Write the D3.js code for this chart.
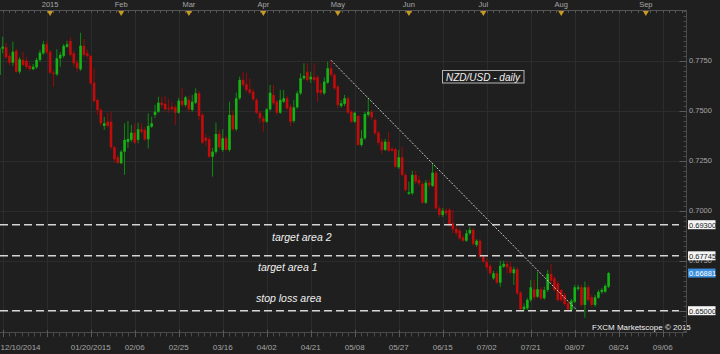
<!DOCTYPE html>
<html>
<head>
<meta charset="utf-8">
<script src="https://cdn.jsdelivr.net/npm/d3@7"></script>
<style>
  html, body { margin: 0; padding: 0; background: #1f1f1f; }
  svg { display: block; font-family: "Liberation Sans", Arial, sans-serif; }
</style>
</head>
<body>
<div id="chart"></div>
<script>
// NZD/USD daily candles, 12/10/2014 .. 08/21/2015 (weekdays, market holidays skipped)
const firstDay = '2014-12-10';
const lastDay = '2015-08-21';
const holidays = ['2014-12-25', '2015-01-01'];

const opens = [
  0.7679,0.7810,0.7817,0.7774,0.7740,0.7799,0.7695,0.7754,0.7749,0.7724,0.7707,0.7717,0.7754,0.7787,0.7832,
  0.7795,0.7690,0.7682,0.7762,0.7774,0.7820,0.7849,0.7787,0.7740,0.7707,0.7824,0.7787,0.7774,0.7640,0.7554,0.7504,0.7424,0.7445,0.7445,0.7317,0.7267,
  0.7237,0.7295,0.7344,0.7354,0.7390,0.7354,0.7407,0.7404,0.7357,0.7420,0.7479,0.7495,0.7540,0.7534,0.7512,0.7520,0.7517,0.7490,0.7550,0.7529,
  0.7554,0.7504,0.7540,0.7587,0.7479,0.7365,0.7357,0.7270,0.7294,0.7384,0.7304,0.7362,0.7304,0.7479,0.7407,0.7562,0.7654,0.7632,0.7607,0.7595,0.7554,0.7490,
  0.7462,0.7445,0.7507,0.7579,0.7545,0.7490,0.7545,0.7562,0.7520,0.7449,0.7517,0.7587,0.7662,0.7695,0.7657,0.7667,0.7667,0.7604,0.7587,0.7640,0.7712,0.7679,
  0.7620,0.7524,0.7534,0.7562,0.7495,0.7445,0.7474,0.7329,0.7362,0.7479,0.7495,0.7454,0.7390,0.7345,0.7304,0.7345,0.7309,0.7307,0.7217,0.7267,0.7179,
  0.7085,0.7087,0.7179,0.7154,0.7134,0.7040,0.7140,0.7124,0.7190,0.7012,0.6979,0.7000,0.7004,0.6937,0.6909,0.6900,0.6867,0.6850,0.6887,0.6904,0.6829,0.6850,
  0.6770,0.6744,0.6724,0.6662,0.6687,0.6640,0.6720,0.6734,0.6720,0.6687,0.6707,0.6590,0.6507,0.6512,0.6554,0.6607,0.6570,0.6607,0.6562,0.6604,0.6684,0.6662,0.6637,
  0.6604,0.6579,0.6537,0.6504,0.6545,0.6609,0.6617,0.6529,0.6617,0.6567,0.6529,0.6565,0.6594,0.6595,0.6620
];
const highs = [
  0.7864,0.7870,0.7839,0.7789,0.7845,0.7809,0.7769,0.7794,0.7769,0.7739,0.7734,0.7764,0.7804,0.7849,0.7849,
  0.7804,0.7704,0.7807,0.7792,0.7834,0.7850,0.7867,0.7799,0.7754,0.7890,0.7859,0.7804,0.7779,0.7712,0.7559,0.7514,0.7469,0.7489,0.7495,0.7324,0.7279,
  0.7304,0.7437,0.7449,0.7429,0.7437,0.7440,0.7437,0.7419,0.7487,0.7470,0.7529,0.7570,0.7570,0.7574,0.7557,0.7545,0.7529,0.7564,0.7612,0.7574,
  0.7574,0.7579,0.7612,0.7599,0.7489,0.7384,0.7370,0.7314,0.7440,0.7404,0.7407,0.7374,0.7545,0.7504,0.7590,0.7670,0.7694,0.7690,0.7662,0.7609,0.7564,0.7499,
  0.7474,0.7514,0.7629,0.7629,0.7554,0.7604,0.7604,0.7574,0.7534,0.7554,0.7599,0.7687,0.7737,0.7737,0.7695,0.7737,0.7679,0.7637,0.7667,0.7745,0.7748,0.7689,
  0.7629,0.7554,0.7579,0.7570,0.7504,0.7495,0.7479,0.7404,0.7494,0.7562,0.7504,0.7464,0.7399,0.7359,0.7359,0.7395,0.7319,0.7314,0.7304,0.7320,0.7189,
  0.7145,0.7200,0.7200,0.7174,0.7144,0.7154,0.7157,0.7234,0.7199,0.7024,0.7014,0.7014,0.7014,0.7004,0.6924,0.6914,0.6879,0.6904,0.6920,0.6914,0.6857,0.6859,
  0.6779,0.6759,0.6734,0.6699,0.6699,0.6750,0.6750,0.6750,0.6745,0.6720,0.6719,0.6599,0.6537,0.6564,0.6654,0.6654,0.6695,0.6619,0.6620,0.6704,0.6734,0.6674,0.6649,
  0.6609,0.6589,0.6549,0.6559,0.6629,0.6629,0.6629,0.6645,0.6629,0.6579,0.6579,0.6604,0.6614,0.6634,0.6694
];
const lows = [
  0.7654,0.7787,0.7759,0.7729,0.7724,0.7688,0.7683,0.7724,0.7709,0.7699,0.7704,0.7709,0.7744,0.7779,0.7784,
  0.7684,0.7620,0.7674,0.7720,0.7764,0.7814,0.7769,0.7720,0.7695,0.7699,0.7769,0.7764,0.7629,0.7538,0.7479,0.7424,0.7404,0.7414,0.7309,0.7239,0.7234,
  0.7234,0.7179,0.7314,0.7344,0.7334,0.7337,0.7384,0.7349,0.7312,0.7414,0.7464,0.7489,0.7514,0.7499,0.7490,0.7499,0.7429,0.7484,0.7519,0.7519,
  0.7494,0.7494,0.7534,0.7454,0.7334,0.7324,0.7264,0.7170,0.7284,0.7309,0.7294,0.7299,0.7295,0.7399,0.7399,0.7554,0.7619,0.7594,0.7579,0.7549,0.7484,0.7437,
  0.7395,0.7439,0.7499,0.7529,0.7479,0.7484,0.7539,0.7504,0.7424,0.7439,0.7509,0.7579,0.7654,0.7644,0.7639,0.7644,0.7545,0.7579,0.7579,0.7634,0.7669,0.7604,
  0.7512,0.7514,0.7524,0.7484,0.7439,0.7439,0.7324,0.7320,0.7354,0.7470,0.7454,0.7379,0.7329,0.7284,0.7299,0.7294,0.7294,0.7214,0.7209,0.7174,0.7095,
  0.7079,0.7079,0.7134,0.7124,0.7034,0.7034,0.7114,0.7119,0.7004,0.6969,0.6969,0.6974,0.6919,0.6887,0.6874,0.6854,0.6844,0.6844,0.6879,0.6824,0.6819,0.6764,
  0.6739,0.6704,0.6679,0.6654,0.6634,0.6620,0.6714,0.6687,0.6684,0.6629,0.6579,0.6499,0.6500,0.6504,0.6544,0.6554,0.6564,0.6554,0.6554,0.6594,0.6639,0.6594,0.6544,
  0.6544,0.6524,0.6495,0.6499,0.6539,0.6599,0.6519,0.6465,0.6544,0.6519,0.6519,0.6559,0.6584,0.6589,0.6613
];
const closes = [
  0.7812,0.7820,0.7767,0.7740,0.7795,0.7695,0.7757,0.7729,0.7719,0.7709,0.7720,0.7754,0.7790,0.7832,0.7792,
  0.7690,0.7684,0.7762,0.7779,0.7824,0.7832,0.7779,0.7737,0.7712,0.7825,0.7779,0.7774,0.7637,0.7549,0.7504,0.7437,0.7437,0.7424,0.7317,0.7257,0.7239,
  0.7295,0.7354,0.7359,0.7390,0.7340,0.7407,0.7395,0.7357,0.7424,0.7437,0.7495,0.7540,0.7529,0.7507,0.7507,0.7507,0.7490,0.7550,0.7529,0.7567,
  0.7507,0.7545,0.7587,0.7474,0.7340,0.7349,0.7270,0.7295,0.7384,0.7317,0.7362,0.7304,0.7479,0.7407,0.7562,0.7654,0.7629,0.7604,0.7590,0.7557,0.7490,0.7462,
  0.7445,0.7507,0.7590,0.7537,0.7490,0.7554,0.7562,0.7512,0.7445,0.7517,0.7587,0.7662,0.7674,0.7654,0.7670,0.7654,0.7590,0.7590,0.7645,0.7712,0.7679,0.7612,
  0.7529,0.7537,0.7562,0.7490,0.7445,0.7490,0.7329,0.7362,0.7484,0.7495,0.7467,0.7387,0.7340,0.7304,0.7345,0.7300,0.7300,0.7220,0.7267,0.7179,0.7104,
  0.7092,0.7179,0.7145,0.7137,0.7040,0.7140,0.7127,0.7190,0.7012,0.6979,0.7000,0.6987,0.6929,0.6907,0.6889,0.6862,0.6850,0.6887,0.6904,0.6834,0.6850,0.6770,
  0.6745,0.6717,0.6687,0.6687,0.6640,0.6724,0.6734,0.6717,0.6690,0.6707,0.6587,0.6507,0.6520,0.6554,0.6617,0.6567,0.6607,0.6562,0.6604,0.6684,0.6650,0.6604,0.6554,
  0.6554,0.6534,0.6507,0.6550,0.6617,0.6617,0.6529,0.6617,0.6554,0.6529,0.6567,0.6594,0.6604,0.6624,0.6688
];

// bottom axis
const tickDates = ['2014-12-11','2014-12-31','2015-01-20','2015-02-06','2015-02-25','2015-03-16','2015-04-02',
  '2015-04-21','2015-05-08','2015-05-27','2015-06-15','2015-07-02','2015-07-21','2015-08-07','2015-08-24','2015-09-06'];
const tickLabels = ['12/10/2014','','01/20/2015','02/06','02/25','03/16','04/02',
  '04/21','05/08','05/27','06/15','07/02','07/21','08/07','08/24','09/06'];
// top axis
const monthDates = ['2015-01-01','2015-02-01','2015-03-01','2015-04-01','2015-05-01','2015-06-01','2015-07-01','2015-08-01','2015-09-01'];
const monthLabels = ['2015','Feb','Mar','Apr','May','Jun','Jul','Aug','Sep'];
// right axis (0.6500 label sits under the stop-loss box, so it is not printed)
const priceTicks = [0.65, 0.675, 0.70, 0.725, 0.75, 0.775];
const priceLabels = [0.675, 0.70, 0.725, 0.75, 0.775];

// horizontal levels and annotations
const levels = [0.6930, 0.67745, 0.6500];
const levelNames = ['target area 2', 'target area 1', 'stop loss area'];
const lastPrice = 0.66881;
const trendDates = ['2015-04-29', '2015-08-10'];
const trendPrices = [0.7752, 0.6496];
const title = 'NZD/USD - daily';
const credit = 'FXCM Marketscope \u00a9 2015';

const W = 720, H = 354;
const plotR = 679, plotT = 10, plotB = 333, axisX = 686.5;
const bg = '#1f1f1f', grid = '#2c2c2c', axisCol = '#4a4a4a', txt = '#a6a6a6';
const upCol = '#14b414', downCol = '#c20c0c';

const parse = d3.utcParse('%Y-%m-%d');
const fmt = d3.utcFormat('%Y-%m-%d');
const days = d3.utcDays(parse(firstDay), d3.utcDay.offset(parse(lastDay), 1))
  .filter(d => d.getUTCDay() % 6 !== 0 && !holidays.includes(fmt(d)));

// trading-day index; past the last bar the chart runs on calendar days
function dayIndex(s) {
  const d = parse(s);
  const i = days.findIndex(t => t >= d);
  if (i >= 0) return i;
  return days.length - 1 + d3.utcDay.count(days[days.length - 1], d);
}

const x = d3.scaleLinear().domain([0.2, 200.8]).range([0, plotR]);
const y = d3.scaleLinear().domain([0.6394, 0.8004]).range([331.9, 9.9]);

const svg = d3.select('#chart').append('svg')
  .attr('width', W).attr('height', H);

svg.append('rect').attr('width', W).attr('height', H).attr('fill', bg);

svg.append('clipPath').attr('id', 'clip')
  .append('rect').attr('x', 0).attr('y', plotT).attr('width', plotR).attr('height', plotB - plotT);

// grid
const majorIdx = tickDates.map(dayIndex);
svg.append('g').selectAll('line').data(majorIdx).join('line')
  .attr('x1', d => Math.round(x(d)) + 0.5).attr('x2', d => Math.round(x(d)) + 0.5)
  .attr('y1', plotT).attr('y2', plotB)
  .attr('stroke', grid);
svg.append('g').selectAll('line').data(priceTicks).join('line')
  .attr('x1', 0).attr('x2', axisX)
  .attr('y1', d => Math.round(y(d)) + 0.5).attr('y2', d => Math.round(y(d)) + 0.5)
  .attr('stroke', grid);

// candles
const candles = days.map((d, i) => ({ i, o: opens[i], h: highs[i], l: lows[i], c: closes[i] }));
const cg = svg.append('g').attr('clip-path', 'url(#clip)');
cg.selectAll('line').data(candles).join('line')
  .attr('x1', d => x(d.i)).attr('x2', d => x(d.i))
  .attr('y1', d => y(d.h)).attr('y2', d => y(d.l))
  .attr('stroke', d => d.c >= d.o ? '#0e8c0e' : '#960a0a')
  .attr('stroke-width', 1);
cg.selectAll('rect').data(candles).join('rect')
  .attr('x', d => x(d.i) - 1.3)
  .attr('width', 2.6)
  .attr('y', d => y(Math.max(d.o, d.c)))
  .attr('height', d => Math.max(1, Math.abs(y(d.o) - y(d.c))))
  .attr('fill', d => d.c >= d.o ? upCol : downCol);

// dashed levels
svg.append('g').selectAll('line').data(levels).join('line')
  .attr('x1', 0).attr('x2', plotR)
  .attr('y1', d => y(d)).attr('y2', d => y(d))
  .attr('stroke', '#d4d4d4').attr('stroke-width', 1.5)
  .attr('stroke-dasharray', '8,4');

// trend line
svg.append('line')
  .attr('x1', x(dayIndex(trendDates[0]))).attr('y1', y(trendPrices[0]))
  .attr('x2', x(dayIndex(trendDates[1]))).attr('y2', y(trendPrices[1]))
  .attr('stroke', '#c4ccc4').attr('stroke-width', 1)
  .attr('stroke-dasharray', '2,1.5');

// annotations: two targets hang under their line, stop loss sits above it
const noteX = [272, 258, 256];
const noteDy = [16, 15, -9];
svg.append('g').selectAll('text').data(levels).join('text')
  .attr('x', (d, i) => noteX[i])
  .attr('y', (d, i) => y(d) + noteDy[i])
  .attr('fill', '#f0f0f0')
  .attr('font-size', 10.5)
  .attr('font-style', 'italic')
  .text((d, i) => levelNames[i]);

// title box
const tg = svg.append('g').attr('transform', 'translate(442.5,70.5)');
tg.append('rect').attr('width', 81.5).attr('height', 12.5)
  .attr('fill', bg).attr('stroke', '#b4b4b4');
tg.append('text').attr('x', 3.5).attr('y', 10)
  .attr('fill', '#f2f2f2').attr('font-size', 10).attr('font-style', 'italic')
  .text(title);

svg.append('text').attr('x', 592).attr('y', 330)
  .attr('fill', '#f0f0f0').attr('font-size', 8)
  .text(credit);

// right axis
const ra = svg.append('g').attr('transform', `translate(${axisX},0)`);
ra.append('line').attr('x1', 0).attr('x2', 0).attr('y1', plotT).attr('y2', plotB).attr('stroke', axisCol);
ra.selectAll('line.minor').data(d3.range(0.6400, 0.8001, 0.0025)).join('line')
  .attr('class', 'minor')
  .attr('x1', -3).attr('x2', 0)
  .attr('y1', d => Math.round(y(d)) + 0.5).attr('y2', d => Math.round(y(d)) + 0.5)
  .attr('stroke', axisCol);
ra.selectAll('line.major').data(priceTicks).join('line')
  .attr('class', 'major')
  .attr('x1', -7).attr('x2', 0)
  .attr('y1', d => Math.round(y(d)) + 0.5).attr('y2', d => Math.round(y(d)) + 0.5)
  .attr('stroke', '#5a5a5a');
ra.selectAll('text').data(priceLabels).join('text')
  .attr('x', 2.5).attr('y', d => y(d) + 2.7)
  .attr('fill', txt).attr('font-size', 7.5)
  .text(d3.format('.4f'));

// price boxes
const boxes = levels.map(v => ({ v, fill: '#f4f4f4', color: '#1a1a1a' }))
  .concat([{ v: lastPrice, fill: '#3b8de0', color: '#ffffff' }]);
const bx = svg.append('g').selectAll('g').data(boxes).join('g')
  .attr('transform', d => `translate(${axisX + 1.5},${y(d.v)})`);
bx.append('rect').attr('x', 0).attr('y', -4.5).attr('width', 27.5).attr('height', 9)
  .attr('fill', d => d.fill);
bx.append('text').attr('x', 1).attr('y', 2.8)
  .attr('fill', d => d.color).attr('font-size', 7.5)
  .text(d => d3.format('.5f')(d.v));

// bottom axis
const ba = svg.append('g');
ba.append('line').attr('x1', 0).attr('x2', axisX).attr('y1', plotB - 0.5).attr('y2', plotB - 0.5).attr('stroke', axisCol);
const minorIdx = d3.range(majorIdx[0], majorIdx[majorIdx.length - 1] + 13, 13 / 7);
ba.selectAll('line.minor').data(minorIdx.filter(d => x(d) < axisX)).join('line')
  .attr('class', 'minor')
  .attr('x1', d => Math.round(x(d)) + 0.5).attr('x2', d => Math.round(x(d)) + 0.5)
  .attr('y1', plotB).attr('y2', plotB + 3.5)
  .attr('stroke', axisCol);
ba.selectAll('line.major').data(majorIdx).join('line')
  .attr('class', 'major')
  .attr('x1', d => Math.round(x(d)) + 0.5).attr('x2', d => Math.round(x(d)) + 0.5)
  .attr('y1', plotB - 3).attr('y2', plotB + 4)
  .attr('stroke', '#5a5a5a');
ba.selectAll('text').data(majorIdx).join('text')
  .attr('x', (d, i) => i === 0 ? 0.5 : x(d))
  .attr('y', 350)
  .attr('text-anchor', (d, i) => i === 0 ? 'start' : 'middle')
  .attr('fill', txt).attr('font-size', 8)
  .text((d, i) => tickLabels[i]);

// top axis
const ta = svg.append('g');
ta.append('line').attr('x1', 0).attr('x2', axisX).attr('y1', plotT + 0.5).attr('y2', plotT + 0.5).attr('stroke', '#555');
ta.selectAll('line.minor').data(minorIdx.filter(d => x(d) < axisX)).join('line')
  .attr('class', 'minor')
  .attr('x1', d => Math.round(x(d)) + 0.5).attr('x2', d => Math.round(x(d)) + 0.5)
  .attr('y1', plotT).attr('y2', plotT + 3)
  .attr('stroke', '#555');
const monthIdx = monthDates.map(dayIndex);
ta.selectAll('path').data(monthIdx).join('path')
  .attr('d', d => `M${x(d) - 3},${plotT + 1}L${x(d) + 3},${plotT + 1}L${x(d)},${plotT + 6}Z`)
  .attr('fill', '#c99a22');
ta.selectAll('text').data(monthIdx).join('text')
  .attr('x', d => x(d)).attr('y', 7)
  .attr('text-anchor', 'middle')
  .attr('fill', txt).attr('font-size', 7.5)
  .text((d, i) => monthLabels[i]);
</script>
</body>
</html>
